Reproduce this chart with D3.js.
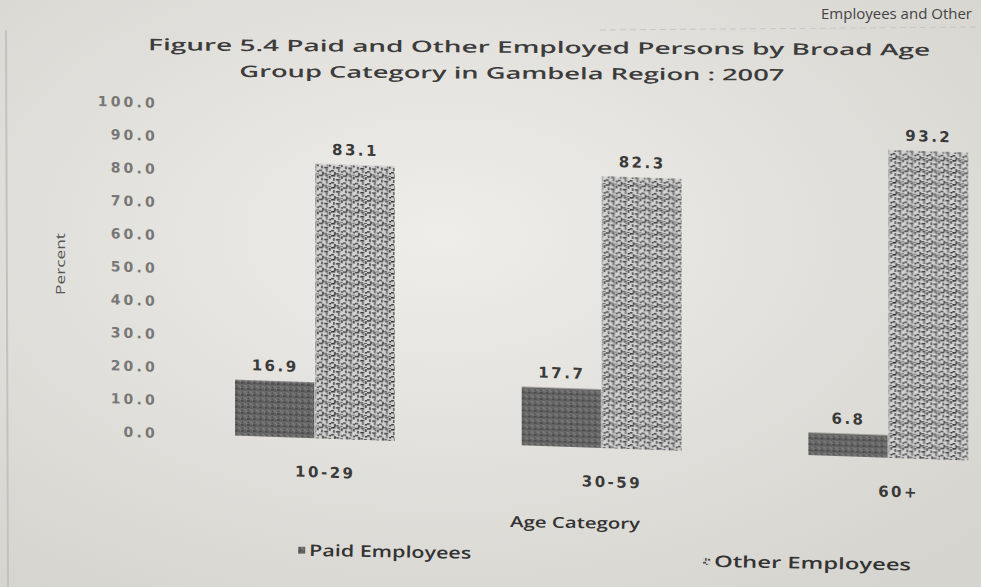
<!DOCTYPE html>
<html>
<head>
<meta charset="utf-8">
<script src="https://cdn.jsdelivr.net/npm/d3@7"></script>
<style>
  body { margin: 0; background: #e6e4e0; }
  svg { display: block; }
</style>
</head>
<body>
<svg id="chart"></svg>
<script>
const categories = ["10-29", "30-59", "60+"];
const paidValues = [16.9, 17.7, 6.8];
const otherValues = [83.1, 82.3, 93.2];
const yTickValues = [0, 10, 20, 30, 40, 50, 60, 70, 80, 90, 100];
const seriesNames = ["Paid Employees", "Other Employees"];
const titleLines = ["Figure 5.4  Paid and Other Employed Persons by Broad Age", "Group Category in Gambela Region : 2007"];

const width = 981, height = 587;
const SKEW = 0.034; // photo is slightly tilted
const AXIS_X = 130;

const svg = d3.select("#chart").attr("width", width).attr("height", height);
const defs = svg.append("defs");

// paper background
const grad = defs.append("radialGradient").attr("id", "paper").attr("cx", "45%").attr("cy", "40%").attr("r", "75%");
grad.append("stop").attr("offset", "0%").attr("stop-color", "#efede9");
grad.append("stop").attr("offset", "100%").attr("stop-color", "#d6d4cf");
svg.append("rect").attr("width", width).attr("height", height).attr("fill", "url(#paper)");

// fills
const paidPat = defs.append("pattern").attr("id", "paidFill").attr("patternUnits", "userSpaceOnUse").attr("width", 6).attr("height", 6);
paidPat.append("rect").attr("width", 6).attr("height", 6).attr("fill", "#676767");
[[0, 0, 3, 2, "#4c4c4c"], [3, 3, 2, 2, "#7c7c7c"], [1, 4, 1, 1, "#404040"], [4, 1, 1, 2, "#545454"], [5, 5, 1, 1, "#888"]]
  .forEach(r => paidPat.append("rect").attr("x", r[0]).attr("y", r[1]).attr("width", r[2]).attr("height", r[3]).attr("fill", r[4]));

const otherPat = defs.append("pattern").attr("id", "otherFill").attr("patternUnits", "userSpaceOnUse").attr("width", 12).attr("height", 12);
otherPat.append("rect").attr("width", 12).attr("height", 12).attr("fill", "#d2d2d2");
[[0, 0, 4, 1.6, "#2e2e2e"], [6, 0, 3, 1.6, "#4a4a4a"], [10, 1, 1.6, 3, "#3a3a3a"], [2, 3, 1.6, 3, "#4a4a4a"],
 [5, 4, 4, 1.6, "#333"], [0, 7, 3, 1.6, "#444"], [7, 6, 1.6, 3, "#5a5a5a"], [10, 8, 2, 1.6, "#2e2e2e"],
 [3, 9, 1.6, 3, "#3a3a3a"], [5, 10, 3, 1.6, "#555"], [9, 11, 3, 1, "#5a5a5a"], [8, 2, 1.2, 1.2, "#444"]]
  .forEach(r => otherPat.append("rect").attr("x", r[0]).attr("y", r[1]).attr("width", r[2]).attr("height", r[3]).attr("fill", r[4]));

defs.append("filter").attr("id", "soft").append("feGaussianBlur").attr("stdDeviation", 0.5);

// left border and the text line at the top of the photo
svg.append("line").attr("x1", 6).attr("x2", 8).attr("y1", 30).attr("y2", 587).attr("stroke", "#c4c2be").attr("stroke-width", 2);
svg.append("line").attr("x1", 600).attr("x2", 981).attr("y1", 30).attr("y2", 27).attr("stroke", "#c9c7c3").attr("stroke-dasharray", "6,4");
svg.append("text").attr("x", 972).attr("y", 19).attr("text-anchor", "end")
  .attr("font-family", "Open Sans").attr("font-size", 15).attr("fill", "#444")
  .text("Employees and Other");

// title
svg.append("g").attr("transform", "rotate(0.4, 540, 60)")
  .selectAll("text").data(titleLines).join("text")
  .attr("x", (d, i) => i === 0 ? 539 : 512)
  .attr("y", (d, i) => i === 0 ? 53 : 79)
  .attr("text-anchor", "middle")
  .attr("font-family", "Open Sans").attr("font-weight", 600).attr("font-size", 16)
  .attr("fill", "#3c3c3c")
  .attr("textLength", (d, i) => i === 0 ? 782 : 545).attr("lengthAdjust", "spacingAndGlyphs")
  .text(d => d);

// plot
const x = d3.scaleBand().domain(categories).range([172, 1032]).paddingInner(0.44).paddingOuter(0.22);
const xSub = d3.scaleBand().domain(seriesNames).range([0, x.bandwidth()]);
const y = d3.scaleLinear().domain([0, 100]).range([432, 102]);

const plot = svg.append("g").attr("transform", `translate(0,${-AXIS_X * SKEW}) skewY(${Math.atan(SKEW) * 180 / Math.PI})`);

// y tick labels (no axis line drawn in the original)
const yAxis = d3.axisLeft(y).tickValues(yTickValues).tickFormat(d3.format(".1f")).tickSize(0).tickPadding(0);
const yG = plot.append("g").attr("transform", "translate(158,0)").call(yAxis);
yG.select(".domain").remove();
yG.selectAll("text")
  .attr("font-family", "DejaVu Sans").attr("font-weight", 700).attr("font-size", 14)
  .attr("letter-spacing", 3.2).attr("fill", "#777");

const rows = categories.map((c, i) => ({ cat: c, values: [paidValues[i], otherValues[i]] }));
const groups = plot.selectAll(".grp").data(rows).join("g").attr("class", "grp")
  .attr("transform", d => `translate(${x(d.cat)},0)`);

const cells = groups.selectAll("g").data(d => d.values.map((v, j) => ({ key: seriesNames[j], v: v }))).join("g");
cells.append("rect")
  .attr("x", d => xSub(d.key))
  .attr("width", xSub.bandwidth() - 1)
  .attr("y", d => y(d.v))
  .attr("height", d => y(0) - y(d.v))
  .attr("fill", (d, j) => j === 0 ? "url(#paidFill)" : "url(#otherFill)")
  .attr("filter", "url(#soft)");
cells.append("text")
  .attr("x", d => xSub(d.key) + xSub.bandwidth() / 2)
  .attr("y", d => y(d.v) - 10)
  .attr("text-anchor", "middle")
  .attr("font-family", "DejaVu Sans").attr("font-weight", 700).attr("font-size", 15)
  .attr("letter-spacing", 2.5).attr("fill", "#3a3a3a")
  .text(d => d3.format(".1f")(d.v));

// category labels
plot.append("g").selectAll("text").data(categories).join("text")
  .attr("x", d => x(d) + x.bandwidth() / 2 + 10)
  .attr("y", y(0) + 39)
  .attr("text-anchor", "middle")
  .attr("font-family", "DejaVu Sans").attr("font-weight", 700).attr("font-size", 15)
  .attr("letter-spacing", 2.5).attr("fill", "#3a3a3a")
  .text(d => d);

// axis titles
svg.append("text").attr("x", 575).attr("y", 528).attr("text-anchor", "middle")
  .attr("font-family", "Open Sans").attr("font-weight", 600).attr("font-size", 15)
  .attr("textLength", 130).attr("lengthAdjust", "spacingAndGlyphs")
  .attr("fill", "#333").attr("transform", "rotate(0.8, 575, 528)")
  .text("Age Category");
svg.append("text").attr("transform", "translate(65,264) rotate(-90)").attr("text-anchor", "middle")
  .attr("font-family", "Open Sans").attr("font-size", 13)
  .attr("textLength", 62).attr("lengthAdjust", "spacingAndGlyphs")
  .attr("fill", "#555")
  .text("Percent");

// legend
const legend = svg.append("g").attr("transform", "rotate(1, 600, 565)")
  .selectAll("g").data(seriesNames).join("g")
  .attr("transform", (d, i) => `translate(${i === 0 ? 298 : 703},${i === 0 ? 561 : 565})`);
legend.append("rect").attr("x", 0).attr("y", -9).attr("width", 7).attr("height", 7)
  .attr("fill", (d, i) => i === 0 ? "url(#paidFill)" : "url(#otherFill)");
legend.append("text").attr("x", 11).attr("y", 0)
  .attr("font-family", "Open Sans").attr("font-weight", 600).attr("font-size", 16)
  .attr("textLength", (d, i) => i === 0 ? 162 : 197).attr("lengthAdjust", "spacingAndGlyphs")
  .attr("fill", "#333")
  .text(d => d);
</script>
</body>
</html>
